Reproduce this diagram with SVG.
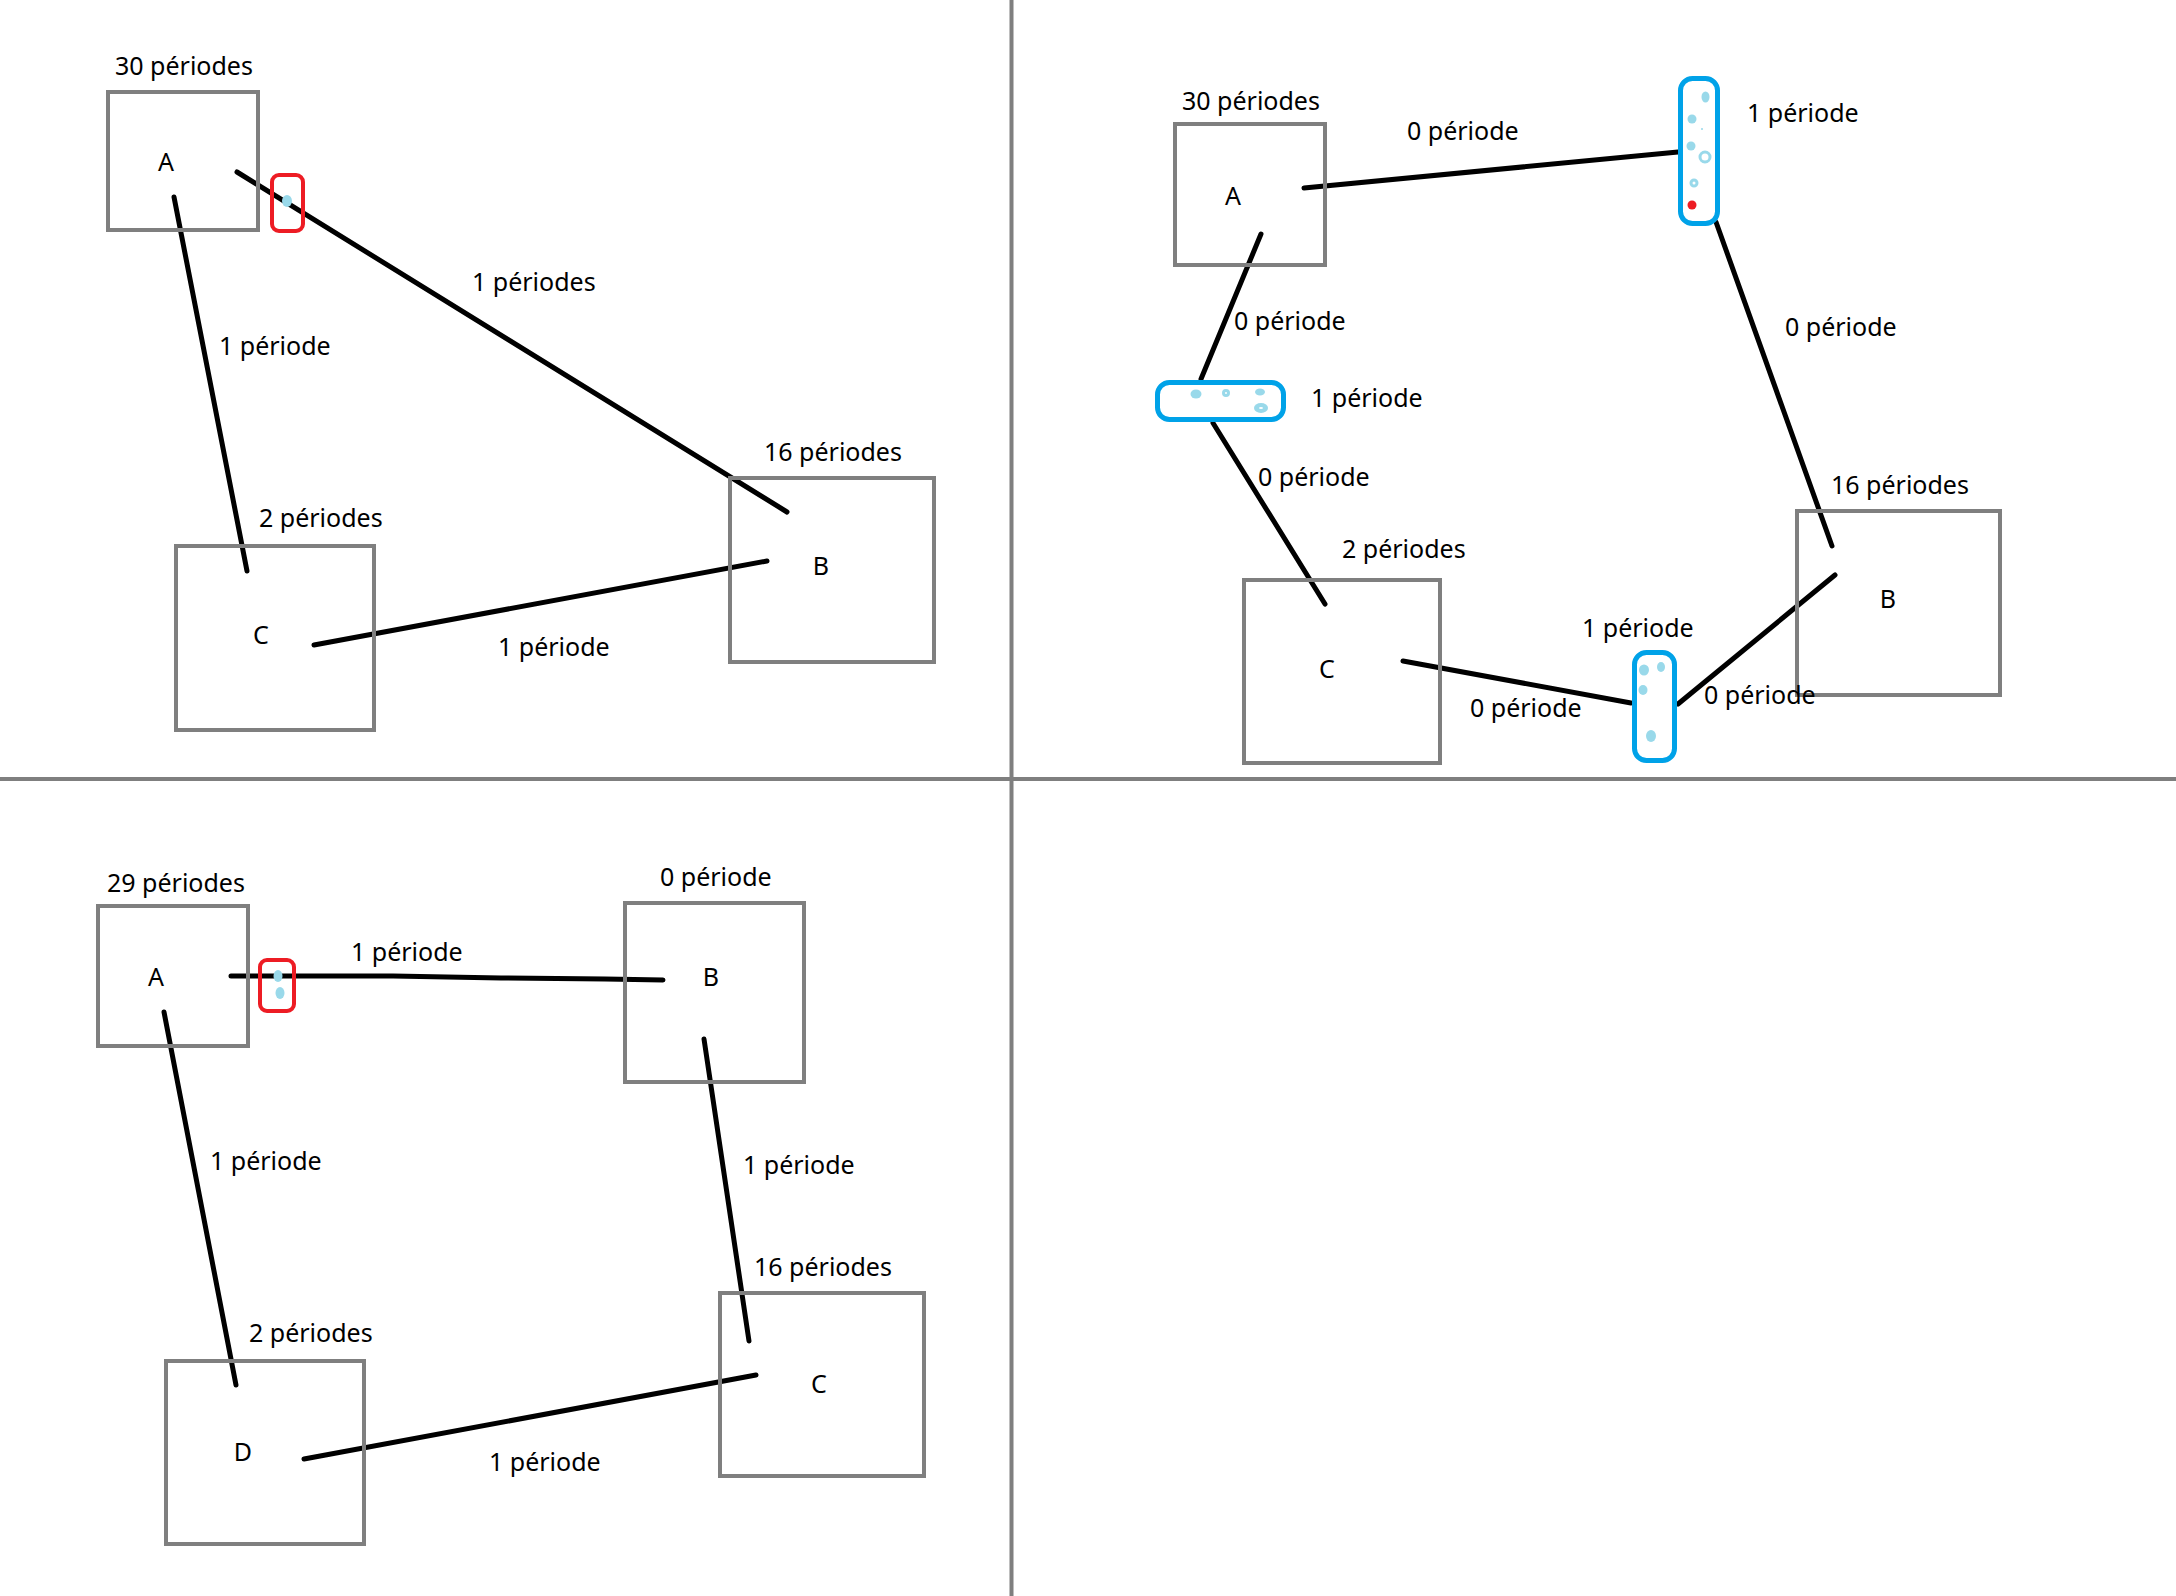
<svg xmlns="http://www.w3.org/2000/svg" width="2176" height="1596" viewBox="0 0 2176 1596">
<style>
.bg{fill:#ffffff}
.div{stroke:#7f7f7f;stroke-width:4;fill:none}
.box rect{fill:none;stroke:#7f7f7f;stroke-width:4}
text{font-family:"Noto Sans","Open Sans",sans-serif;font-size:25px;fill:#000}
.mid{text-anchor:middle}
.ln{stroke:#000;stroke-width:5;fill:none;stroke-linecap:round;stroke-linejoin:round}
.red{fill:none;stroke:#ed1c24;stroke-width:4}
.pill{fill:none;stroke:#00a2e8;stroke-width:5}
.dot{fill:#99d9ea}
.ring{fill:none;stroke:#99d9ea;stroke-width:3}
</style>
<rect class="bg" x="0" y="0" width="2176" height="1596"/>
<g id="dividers">
<line class="div" x1="1011.5" y1="0" x2="1011.5" y2="1596"/>
<line class="div" x1="0" y1="779" x2="2176" y2="779"/>
</g>
<g id="connectors">
<line class="ln" x1="237" y1="172" x2="787" y2="512"/>
<line class="ln" x1="174" y1="197" x2="247" y2="571"/>
<line class="ln" x1="314" y1="645" x2="767" y2="561"/>
<line class="ln" x1="1304" y1="188" x2="1678" y2="152"/>
<line class="ln" x1="1716" y1="222" x2="1832" y2="546"/>
<line class="ln" x1="1835" y1="575" x2="1678" y2="704"/>
<line class="ln" x1="1403" y1="661" x2="1631" y2="703"/>
<line class="ln" x1="1261" y1="234" x2="1201" y2="379"/>
<line class="ln" x1="1213" y1="423" x2="1325" y2="604"/>
<polyline class="ln" points="231,976 393,976 501,978 605,979 663,980"/>
<line class="ln" x1="164" y1="1012" x2="236" y2="1385"/>
<line class="ln" x1="704" y1="1039" x2="749" y2="1341"/>
<line class="ln" x1="304" y1="1459" x2="756" y2="1375"/>
</g>
<g id="markers">
<rect class="red" x="272" y="175" width="31" height="56" rx="7"/>
<ellipse class="dot" cx="287" cy="201" rx="5" ry="6"/>
<rect class="red" x="260" y="960" width="34" height="51" rx="7"/>
<ellipse class="dot" cx="278" cy="976" rx="4.5" ry="6"/>
<ellipse class="dot" cx="280" cy="993" rx="4.5" ry="6"/>
</g>
<g id="p1-A" class="box"><rect x="108" y="92" width="150" height="138"/><text x="115" y="75">30 périodes</text><text class="mid" x="166" y="171">A</text></g>
<g id="p1-C" class="box"><rect x="176" y="546" width="198" height="184"/><text x="259" y="527">2 périodes</text><text class="mid" x="261" y="644">C</text></g>
<g id="p1-B" class="box"><rect x="730" y="478" width="204" height="184"/><text x="764" y="461">16 périodes</text><text class="mid" x="821" y="575">B</text></g>
<g id="p1-labels">
<text x="472" y="291">1 périodes</text>
<text x="219" y="355">1 période</text>
<text x="498" y="656">1 période</text>
</g>
<g id="p2-A" class="box"><rect x="1175" y="124" width="150" height="141"/><text x="1182" y="110">30 périodes</text><text class="mid" x="1233" y="205">A</text></g>
<g id="p2-B" class="box"><rect x="1797" y="511" width="203" height="184"/><text x="1831" y="494">16 périodes</text><text class="mid" x="1888" y="608">B</text></g>
<g id="p2-C" class="box"><rect x="1244" y="580" width="196" height="183"/><text x="1342" y="558">2 périodes</text><text class="mid" x="1327" y="678">C</text></g>
<g id="p2-pill-top">
<rect class="pill" x="1680.5" y="78.5" width="37" height="145" rx="12"/>
<ellipse class="dot" cx="1705.5" cy="97" rx="4" ry="5.5"/>
<ellipse class="dot" cx="1692" cy="119" rx="4.5" ry="4.5"/>
<circle class="dot" cx="1702" cy="129" r="1"/>
<ellipse class="dot" cx="1691" cy="146" rx="4.5" ry="4.5"/>
<circle class="ring" cx="1705" cy="157" r="5"/>
<circle class="ring" cx="1694" cy="183" r="3"/>
<circle fill="#ed1c24" cx="1692" cy="205" r="4.5"/>
</g>
<g id="p2-pill-left">
<rect class="pill" x="1157.5" y="382.5" width="126" height="37" rx="12"/>
<ellipse class="dot" cx="1196" cy="394" rx="5.5" ry="4.5"/>
<circle class="ring" cx="1226" cy="393" r="2.5"/>
<ellipse class="dot" cx="1260" cy="392" rx="5" ry="3.5"/>
<ellipse class="dot" cx="1261" cy="408" rx="7" ry="5"/>
<ellipse fill="#ffffff" cx="1261" cy="408" rx="2" ry="1"/>
</g>
<g id="p2-pill-bottom">
<rect class="pill" x="1634.5" y="652.5" width="40" height="108" rx="12"/>
<ellipse class="dot" cx="1644" cy="670" rx="5" ry="5.5"/>
<ellipse class="dot" cx="1661" cy="667" rx="4" ry="5"/>
<ellipse class="dot" cx="1643" cy="690" rx="4.5" ry="5"/>
<ellipse class="dot" cx="1651" cy="736" rx="5" ry="6"/>
</g>
<g id="p2-labels">
<text x="1407" y="140">0 période</text>
<text x="1747" y="122">1 période</text>
<text x="1785" y="336">0 période</text>
<text x="1234" y="330">0 période</text>
<text x="1311" y="407">1 période</text>
<text x="1258" y="486">0 période</text>
<text x="1582" y="637">1 période</text>
<text x="1470" y="717">0 période</text>
<text x="1704" y="704">0 période</text>
</g>
<g id="p3-A" class="box"><rect x="98" y="906" width="150" height="140"/><text x="107" y="892">29 périodes</text><text class="mid" x="156" y="986">A</text></g>
<g id="p3-B" class="box"><rect x="625" y="903" width="179" height="179"/><text x="660" y="886">0 période</text><text class="mid" x="711" y="986">B</text></g>
<g id="p3-C" class="box"><rect x="720" y="1293" width="204" height="183"/><text x="754" y="1276">16 périodes</text><text class="mid" x="819" y="1393">C</text></g>
<g id="p3-D" class="box"><rect x="166" y="1361" width="198" height="183"/><text x="249" y="1342">2 périodes</text><text class="mid" x="243" y="1461">D</text></g>
<g id="p3-labels">
<text x="351" y="961">1 période</text>
<text x="210" y="1170">1 période</text>
<text x="743" y="1174">1 période</text>
<text x="489" y="1471">1 période</text>
</g>
</svg>
